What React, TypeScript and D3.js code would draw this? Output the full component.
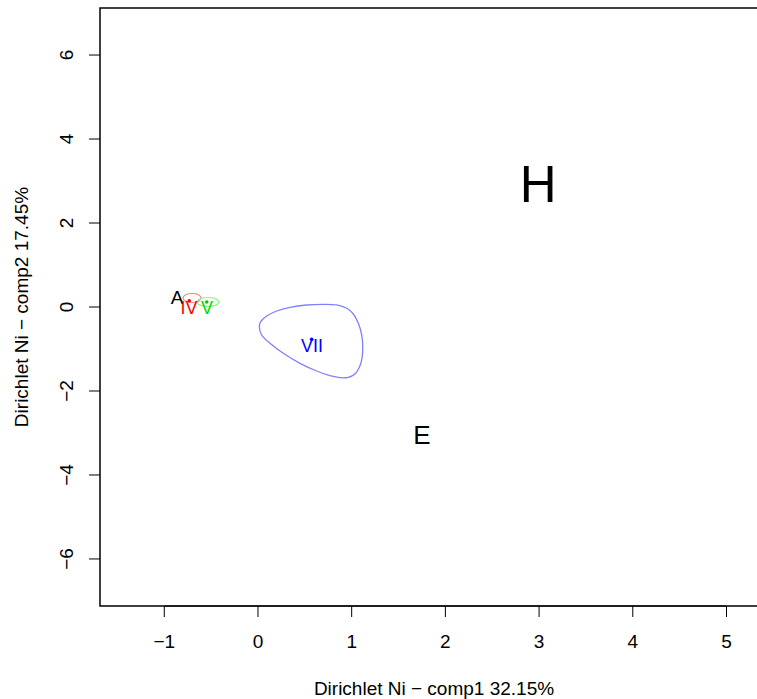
import React from "react";
import * as d3 from "d3";

const xTicks = [-1, 0, 1, 2, 3, 4, 5];
const yTicks = [-6, -4, -2, 0, 2, 4, 6];
const xDomain = [-1.686, 5.443];
const yDomain = [-7.12, 7.12];

// group labels
const textLabels = ["A", "IV", "V", "VII", "E", "H"];
const textX = [-0.864, -0.736, -0.544, 0.576, 1.75, 2.99];
const textY = [0.238, -0.024, -0.024, -0.93, -3.05, 2.92];
const textColors = ["#000000", "#ff0000", "#00dd00", "#0000ff", "#000000", "#000000"];
const textSizes = [19, 18, 18, 18, 26, 51];

// group centroids (points)
const pointX = [-0.733, -0.547, 0.573];
const pointY = [0.15, 0.119, -0.77];
const pointColors = ["#ff0000", "#00cc00", "#0000ff"];

// small ellipses: cx, cy, rx, ry
const ellCx = [-0.704, -0.534];
const ellCy = [0.214, 0.119];
const ellRx = [0.096, 0.117];
const ellRy = [0.107, 0.107];
const ellColors = ["#ff8080", "#80ff80"];

// VII contour
const contourX = [0.014, 0.029, 0.093, 0.2, 0.342, 0.52, 0.697, 0.84, 0.947, 1.018, 1.071, 1.107, 1.118, 1.11, 1.082, 1.035, 0.964, 0.875, 0.768, 0.626, 0.448, 0.27, 0.128, 0.039];
const contourY = [-0.467, -0.35, -0.214, -0.095, -0.007, 0.048, 0.064, 0.048, -0.031, -0.167, -0.388, -0.667, -0.945, -1.221, -1.436, -1.595, -1.674, -1.683, -1.636, -1.524, -1.341, -1.103, -0.865, -0.667];

export default function App() {
  const W = 757, H = 699;
  const left = 100, right = 768, top = 8, bottom = 606;
  const x = d3.scaleLinear().domain(xDomain).range([left, right]);
  const y = d3.scaleLinear().domain(yDomain).range([bottom, top]);
  const font = "'Liberation Sans', Arial, Helvetica, sans-serif";
  const fmt = (v: number) => (v < 0 ? "\u2212" + Math.abs(v) : String(v));

  const contourPts: [number, number][] = contourX.map((cx, i) => [x(cx), y(contourY[i])]);
  const contourPath = d3.line().curve(d3.curveCatmullRomClosed.alpha(0.5))(contourPts) || "";

  return (
    <svg width={W} height={H} style={{ position: "absolute", left: 0, top: 0, background: "#fff" }} fontFamily={font}>
      <rect x={0} y={0} width={W} height={H} fill="#fff" />
      {ellCx.map((c, i) => (
        <ellipse key={"e" + i} cx={x(c)} cy={y(ellCy[i])} rx={x(c + ellRx[i]) - x(c)} ry={y(0) - y(ellRy[i])}
          fill="none" stroke={ellColors[i]} strokeWidth={1.2} />
      ))}
      <path d={contourPath} fill="none" stroke="#8080ff" strokeWidth={1.3} />
      {textLabels.map((t, i) => (
        <text key={"t" + i} x={x(textX[i])} y={y(textY[i])} fill={textColors[i]} fontSize={textSizes[i]}
          textAnchor="middle" dominantBaseline="central">{t}</text>
      ))}
      {pointX.map((px, i) => (
        <circle key={"p" + i} cx={x(px)} cy={y(pointY[i])} r={1.8} fill={pointColors[i]} />
      ))}
      <rect x={left} y={top} width={right - left} height={bottom - top} fill="none" stroke="#000" strokeWidth={1.5} />
      <line x1={x(xTicks[0])} x2={x(xTicks[xTicks.length - 1])} y1={bottom} y2={bottom} stroke="#000" strokeWidth={1} />
      {xTicks.map((t) => (
        <g key={"xt" + t}>
          <line x1={x(t)} x2={x(t)} y1={bottom} y2={bottom + 11} stroke="#000" strokeWidth={1} />
          <text x={x(t)} y={641} fontSize={19} textAnchor="middle" dominantBaseline="central" fill="#000">{fmt(t)}</text>
        </g>
      ))}
      {yTicks.map((t) => (
        <g key={"yt" + t}>
          <line x1={left} x2={left - 11} y1={y(t)} y2={y(t)} stroke="#000" strokeWidth={1} />
          <text transform={`translate(66,${y(t)}) rotate(-90)`} fontSize={19} textAnchor="middle" dominantBaseline="central" fill="#000">{fmt(t)}</text>
        </g>
      ))}
      <text x={434} y={688} fontSize={19} textAnchor="middle" dominantBaseline="central" fill="#000">Dirichlet Ni − comp1 32.15%</text>
      <text transform={`translate(21,307) rotate(-90)`} fontSize={19} textAnchor="middle" dominantBaseline="central" fill="#000">Dirichlet Ni − comp2 17.45%</text>
    </svg>
  );
}
